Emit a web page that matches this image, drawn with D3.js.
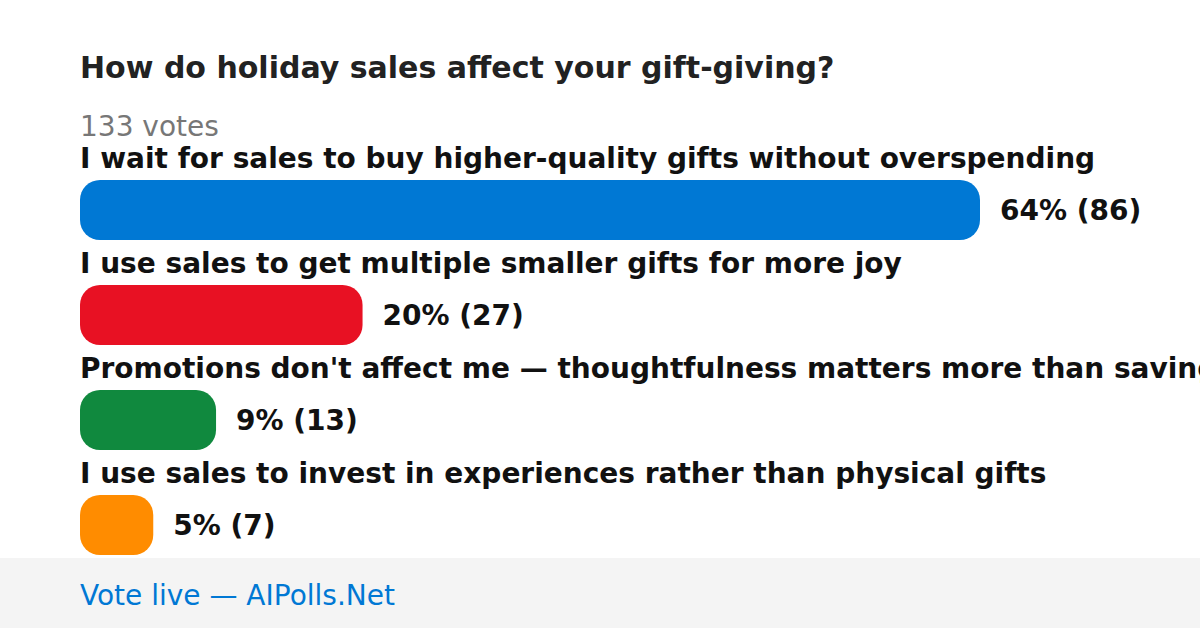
<!DOCTYPE html>
<html><head><meta charset="utf-8">
<script src="https://cdn.jsdelivr.net/npm/d3@7"></script>
<style>html,body{margin:0;padding:0;background:#fff;}svg{display:block;font-family:"DejaVu Sans",sans-serif;}</style>
</head><body>
<script>
const title = "How do holiday sales affect your gift-giving?";
const totalVotes = 133;
const categories = [
  "I wait for sales to buy higher-quality gifts without overspending",
  "I use sales to get multiple smaller gifts for more joy",
  "Promotions don't affect me \u2014 thoughtfulness matters more than savings",
  "I use sales to invest in experiences rather than physical gifts"
];
const votes = [86, 27, 13, 7];
const percents = [64, 20, 9, 5];
const colors = ["#0078d4", "#e81123", "#10893e", "#ff8c00"];
const footer = "Vote live \u2014 AIPolls.Net";

const W = 1200, H = 628;
const svg = d3.select("body").append("svg").attr("width", W).attr("height", H);
svg.append("rect").attr("width", W).attr("height", H).attr("fill", "#fff");

const x = d3.scaleLinear().domain([0, d3.max(votes)]).range([0, 900]);
const y = d3.scaleBand().domain(d3.range(categories.length)).range([135, 135 + 105 * 4]).paddingInner(0);

svg.append("text").attr("x", 80).attr("y", 78).attr("font-size", 30).attr("font-weight", "bold")
  .attr("fill", "#222").text(title);
svg.append("text").attr("x", 80).attr("y", 136).attr("font-size", 28).attr("fill", "#777")
  .text(totalVotes + " votes");

const g = svg.selectAll("g.row").data(categories).join("g").attr("class", "row")
  .attr("transform", (d, i) => `translate(80,${y(i)})`);
g.append("text").attr("x", 0).attr("y", 33).attr("font-size", 28).attr("font-weight", "bold")
  .attr("fill", "#111").text(d => d);
g.append("rect").attr("x", 0).attr("y", 45).attr("height", 60)
  .attr("width", (d, i) => x(votes[i])).attr("rx", 20).attr("ry", 20)
  .attr("fill", (d, i) => colors[i]);
g.append("text").attr("x", (d, i) => x(votes[i]) + 20).attr("y", 75).attr("dy", "0.35em")
  .attr("font-size", 28).attr("font-weight", "bold").attr("fill", "#111")
  .text((d, i) => `${percents[i]}% (${votes[i]})`);

svg.append("rect").attr("x", 0).attr("y", 558).attr("width", W).attr("height", 70).attr("fill", "#f4f4f4");
svg.append("text").attr("x", 80).attr("y", 605).attr("font-size", 28).attr("fill", "#0078d4").text(footer);
</script>
</body></html>
